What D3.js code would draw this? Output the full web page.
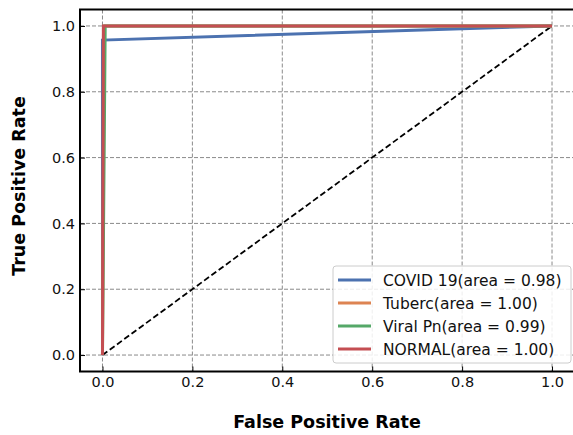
<!doctype html>
<html>
<head>
<meta charset="utf-8"/>
<title>ROC</title>
<script src="https://d3js.org/d3.v7.min.js"></script>
<style>
body { margin: 0; background: #fff; }
text { font-family: "DejaVu Sans", sans-serif; }
</style>
</head>
<body>
<script type="text/javascript">
// series: roc points [fpr, tpr]
var names = ["COVID 19(area = 0.98)", "Tuberc(area = 1.00)", "Viral Pn(area = 0.99)", "NORMAL(area = 1.00)"];
var colors = ["#4c72b0", "#dd8452", "#55a868", "#c44e52"];
var covid = [[0, 0], [0, 0.957], [1, 1]];
var tuberc = [[0, 0], [0.004, 1], [1, 1]];
var viral = [[0, 0], [0.006, 0.99], [0.006, 1], [1, 1]];
var normal = [[0, 0], [0.002, 1], [1, 1]];
var series = [covid, tuberc, viral, normal];
var ticks = [0, 0.2, 0.4, 0.6, 0.8, 1.0];

var W = 573, H = 435;
var svg = d3.select("body").append("svg").attr("width", W).attr("height", H);

var x = d3.scaleLinear().domain([-0.05, 1.05]).range([80, 574.5]);
var y = d3.scaleLinear().domain([-0.05, 1.05]).range([371.5, 9.5]);

// grid
var grid = svg.append("g");
grid.selectAll("line.gx").data(ticks).enter().append("line")
  .attr("x1", function(d){return x(d)}).attr("x2", function(d){return x(d)})
  .attr("y1", y(1.05)).attr("y2", y(-0.05))
  .attr("stroke", "#8a8a8a").attr("stroke-width", 1).attr("stroke-dasharray", "4,2");
grid.selectAll("line.gy").data(ticks).enter().append("line")
  .attr("y1", function(d){return y(d)}).attr("y2", function(d){return y(d)})
  .attr("x1", x(-0.05)).attr("x2", x(1.05))
  .attr("stroke", "#8a8a8a").attr("stroke-width", 1).attr("stroke-dasharray", "4,2");

// diagonal
var line = d3.line().x(function(d){return x(d[0])}).y(function(d){return y(d[1])});
svg.append("path").datum([[0, 0], [1, 1]]).attr("d", line)
  .attr("fill", "none").attr("stroke", "black").attr("stroke-width", 1.8).attr("stroke-dasharray", "6,3");

// curves
svg.selectAll("path.roc").data(series).enter().append("path")
  .attr("class", "roc")
  .attr("d", line)
  .attr("fill", "none")
  .attr("stroke", function(d,i){return colors[i]})
  .attr("stroke-width", 3)
  .attr("stroke-linejoin", "miter");

// axes (ticks inward)
var xAxis = d3.axisBottom(x).tickValues(ticks).tickFormat(d3.format(".1f")).tickSizeInner(-5).tickSizeOuter(0).tickPadding(5);
var yAxis = d3.axisLeft(y).tickValues(ticks).tickFormat(d3.format(".1f")).tickSizeInner(-5).tickSizeOuter(0).tickPadding(5);
var gx = svg.append("g").attr("transform", "translate(0," + y(-0.05) + ")").call(xAxis);
var gy = svg.append("g").attr("transform", "translate(" + x(-0.05) + ",0)").call(yAxis);
[gx, gy].forEach(function(g){
  g.select(".domain").remove();
  g.selectAll(".tick line").attr("stroke", "black").attr("stroke-width", 1);
  g.selectAll("text").attr("font-size", 14.5).attr("fill", "#111").attr("font-family", "DejaVu Sans");
});

// spines
svg.append("rect").attr("x", x(-0.05)).attr("y", y(1.05))
  .attr("width", x(1.05) - x(-0.05)).attr("height", y(-0.05) - y(1.05))
  .attr("fill", "none").attr("stroke", "black").attr("stroke-width", 2);

// axis labels
svg.append("text").attr("x", 327).attr("y", 428).attr("text-anchor", "middle")
  .attr("font-size", 17.5).attr("font-weight", "bold").text("False Positive Rate");
svg.append("text").attr("transform", "translate(25,186) rotate(-90)").attr("text-anchor", "middle")
  .attr("font-size", 17.5).attr("font-weight", "bold").text("True Positive Rate");

// legend
var lg = svg.append("g");
lg.append("rect").attr("x", 333).attr("y", 266).attr("width", 238).attr("height", 97)
  .attr("rx", 3).attr("fill", "white").attr("fill-opacity", 0.85)
  .attr("stroke", "#cccccc").attr("stroke-width", 1);
var items = lg.selectAll("g.item").data(names).enter().append("g")
  .attr("transform", function(d,i){return "translate(0," + (280 + i * 23) + ")"});
items.append("line").attr("x1", 338).attr("x2", 371).attr("y1", 0).attr("y2", 0)
  .attr("stroke", function(d,i){return colors[i]}).attr("stroke-width", 3);
items.append("text").attr("x", 383).attr("y", 5.5).attr("font-size", 15.5).attr("fill", "#111").text(function(d){return d});
</script>
</body>
</html>
